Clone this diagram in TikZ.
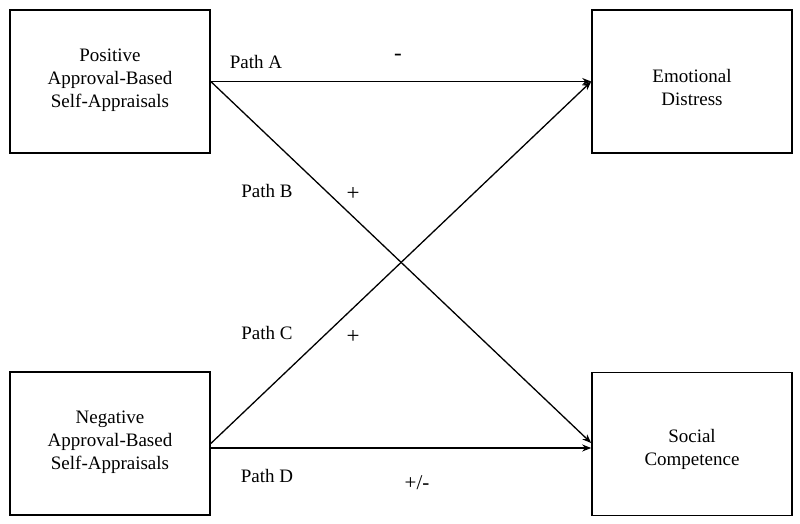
\documentclass[tikz,border=0pt]{standalone}
\usepackage{fontspec}
\setmainfont{Liberation Serif}
\usetikzlibrary{arrows.meta}
\begin{document}
\begin{tikzpicture}[x=1pt,y=-1pt,
  box/.style={draw,line width=1.6pt,minimum width=200pt,minimum height=143pt,inner sep=0pt},
  txt/.style={font=\fontsize{19}{23}\selectfont,align=center,inner sep=0pt},
  lbl/.style={font=\fontsize{19}{23}\selectfont,inner sep=0pt},
  sgn/.style={font=\fontsize{23}{23}\selectfont,inner sep=0pt},
  conn/.style={line width=1.3pt,-{Stealth[length=9pt,width=7pt]}}]
\useasboundingbox (0,0) rectangle (800,523);
\node[box] (pa) at (110,81.5) {};
\node[box] (ed) at (692,81.5) {};
\node[box] (na) at (110,443.5) {};
\node[box] (sc) at (692,444) {};
\node[txt] (pat) at (110,80) {Positive\\Approval-Based\\Self-Appraisals};
\node[txt] (edt) at (692,87) {Emotional\\Distress};
\node[txt] (nat) at (110,442.5) {Negative\\Approval-Based\\Self-Appraisals};
\node[txt] (sct) at (692,449.5) {Social\\Competence};
\draw[conn] (pa.east) -- (ed.west);
\draw[conn] (pa.east) -- ([yshift=1pt]sc.west);
\draw[conn] (na.east) -- (ed.west);
\draw[conn] ([yshift=-4.5pt]na.east) -- ([yshift=-4pt]sc.west);
\node[lbl] (la) at (256,62) {Path A};
\node[lbl] (lb) at (267,191) {Path B};
\node[lbl] (lc) at (267,333) {Path C};
\node[lbl] (ld) at (267,476) {Path D};
\node[sgn] (sa) at (398,57) {-};
\node[sgn] (sb) at (353,194) {+};
\node[sgn] (scn) at (353,337) {+};
\node[lbl] (sd) at (417,483) {\fontsize{21}{23}\selectfont +/-};
\end{tikzpicture}
\end{document}
